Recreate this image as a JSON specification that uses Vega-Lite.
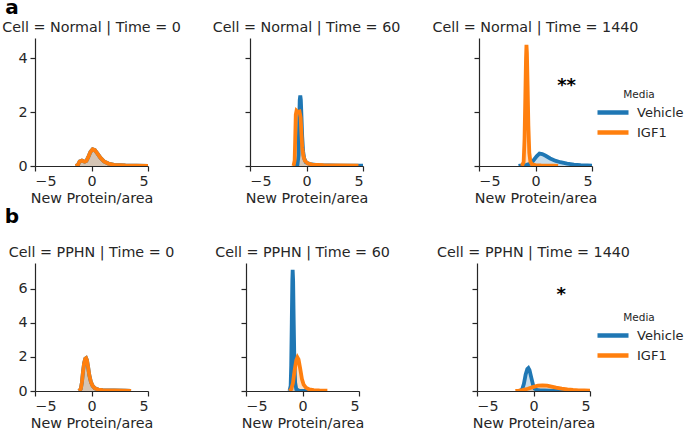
{
  "$schema": "https://vega.github.io/schema/vega-lite/v6.json",
  "padding": {"left": 2, "top": -3, "right": 0, "bottom": 0},
  "config": {
    "font": "DejaVu Sans",
    "view": {"stroke": null},
    "axis": {"grid": false, "domainColor": "#262626", "tickColor": "#262626", "labelColor": "#262626", "titleColor": "#262626", "labelFont": "DejaVu Sans", "titleFont": "DejaVu Sans", "labelFontSize": 14.3, "titleFontSize": 14.3, "titleFontWeight": "normal", "tickSize": 5, "domainWidth": 1.2, "tickWidth": 1.2, "labelPadding": 3, "titlePadding": 3},
    "title": {"fontSize": 14.3, "fontWeight": "normal", "color": "#262626", "offset": 3, "font": "DejaVu Sans"},
    "legend": {"titleFont": "DejaVu Sans", "labelFont": "DejaVu Sans"}
  },
  "datasets": {
    "stars": [
      {"cell": "Normal", "time": 1440, "x": 2.75, "y": 2.96, "label": "**"},
      {"cell": "PPHN", "time": 1440, "x": 2.45, "y": 5.6, "label": "*"}
    ],
    "kde": [
      {"cell":"Normal","time":0,"media":"Vehicle","x":-1.4,"y":0},
      {"cell":"Normal","time":0,"media":"Vehicle","x":-1.2,"y":0.04},
      {"cell":"Normal","time":0,"media":"Vehicle","x":-1.05,"y":0.17},
      {"cell":"Normal","time":0,"media":"Vehicle","x":-0.85,"y":0.2},
      {"cell":"Normal","time":0,"media":"Vehicle","x":-0.6,"y":0.16},
      {"cell":"Normal","time":0,"media":"Vehicle","x":-0.45,"y":0.19},
      {"cell":"Normal","time":0,"media":"Vehicle","x":-0.3,"y":0.32},
      {"cell":"Normal","time":0,"media":"Vehicle","x":-0.1,"y":0.52},
      {"cell":"Normal","time":0,"media":"Vehicle","x":0.1,"y":0.62},
      {"cell":"Normal","time":0,"media":"Vehicle","x":0.3,"y":0.59},
      {"cell":"Normal","time":0,"media":"Vehicle","x":0.5,"y":0.48},
      {"cell":"Normal","time":0,"media":"Vehicle","x":0.8,"y":0.3},
      {"cell":"Normal","time":0,"media":"Vehicle","x":1.1,"y":0.17},
      {"cell":"Normal","time":0,"media":"Vehicle","x":1.5,"y":0.09},
      {"cell":"Normal","time":0,"media":"Vehicle","x":2.0,"y":0.045},
      {"cell":"Normal","time":0,"media":"Vehicle","x":3.0,"y":0.02},
      {"cell":"Normal","time":0,"media":"Vehicle","x":4.0,"y":0.01},
      {"cell":"Normal","time":0,"media":"Vehicle","x":5.0,"y":0.005},
      {"cell":"Normal","time":0,"media":"IGF1","x":-1.4,"y":0},
      {"cell":"Normal","time":0,"media":"IGF1","x":-1.2,"y":0.04},
      {"cell":"Normal","time":0,"media":"IGF1","x":-1.05,"y":0.17},
      {"cell":"Normal","time":0,"media":"IGF1","x":-0.85,"y":0.2},
      {"cell":"Normal","time":0,"media":"IGF1","x":-0.6,"y":0.16},
      {"cell":"Normal","time":0,"media":"IGF1","x":-0.45,"y":0.19},
      {"cell":"Normal","time":0,"media":"IGF1","x":-0.3,"y":0.32},
      {"cell":"Normal","time":0,"media":"IGF1","x":-0.1,"y":0.52},
      {"cell":"Normal","time":0,"media":"IGF1","x":0.1,"y":0.62},
      {"cell":"Normal","time":0,"media":"IGF1","x":0.3,"y":0.59},
      {"cell":"Normal","time":0,"media":"IGF1","x":0.5,"y":0.48},
      {"cell":"Normal","time":0,"media":"IGF1","x":0.8,"y":0.3},
      {"cell":"Normal","time":0,"media":"IGF1","x":1.1,"y":0.17},
      {"cell":"Normal","time":0,"media":"IGF1","x":1.5,"y":0.09},
      {"cell":"Normal","time":0,"media":"IGF1","x":2.0,"y":0.045},
      {"cell":"Normal","time":0,"media":"IGF1","x":3.0,"y":0.02},
      {"cell":"Normal","time":0,"media":"IGF1","x":4.0,"y":0.01},
      {"cell":"Normal","time":0,"media":"IGF1","x":5.0,"y":0.005},

      {"cell":"Normal","time":60,"media":"Vehicle","x":-1.0,"y":0},
      {"cell":"Normal","time":60,"media":"Vehicle","x":-0.8,"y":0.05},
      {"cell":"Normal","time":60,"media":"Vehicle","x":-0.7,"y":0.4},
      {"cell":"Normal","time":60,"media":"Vehicle","x":-0.65,"y":1.6},
      {"cell":"Normal","time":60,"media":"Vehicle","x":-0.6,"y":2.45},
      {"cell":"Normal","time":60,"media":"Vehicle","x":-0.55,"y":2.62},
      {"cell":"Normal","time":60,"media":"Vehicle","x":-0.5,"y":2.45},
      {"cell":"Normal","time":60,"media":"Vehicle","x":-0.45,"y":1.9},
      {"cell":"Normal","time":60,"media":"Vehicle","x":-0.38,"y":1.1},
      {"cell":"Normal","time":60,"media":"Vehicle","x":-0.3,"y":0.55},
      {"cell":"Normal","time":60,"media":"Vehicle","x":-0.2,"y":0.28},
      {"cell":"Normal","time":60,"media":"Vehicle","x":-0.05,"y":0.14},
      {"cell":"Normal","time":60,"media":"Vehicle","x":0.3,"y":0.07},
      {"cell":"Normal","time":60,"media":"Vehicle","x":1.0,"y":0.03},
      {"cell":"Normal","time":60,"media":"Vehicle","x":3.0,"y":0.015},
      {"cell":"Normal","time":60,"media":"Vehicle","x":5.0,"y":0.01},
      {"cell":"Normal","time":60,"media":"IGF1","x":-1.15,"y":0},
      {"cell":"Normal","time":60,"media":"IGF1","x":-1.05,"y":0.2},
      {"cell":"Normal","time":60,"media":"IGF1","x":-1.0,"y":1.0},
      {"cell":"Normal","time":60,"media":"IGF1","x":-0.95,"y":1.9},
      {"cell":"Normal","time":60,"media":"IGF1","x":-0.88,"y":2.05},
      {"cell":"Normal","time":60,"media":"IGF1","x":-0.75,"y":2.0},
      {"cell":"Normal","time":60,"media":"IGF1","x":-0.62,"y":2.02},
      {"cell":"Normal","time":60,"media":"IGF1","x":-0.52,"y":1.8},
      {"cell":"Normal","time":60,"media":"IGF1","x":-0.45,"y":1.2},
      {"cell":"Normal","time":60,"media":"IGF1","x":-0.38,"y":0.7},
      {"cell":"Normal","time":60,"media":"IGF1","x":-0.28,"y":0.38},
      {"cell":"Normal","time":60,"media":"IGF1","x":-0.15,"y":0.2},
      {"cell":"Normal","time":60,"media":"IGF1","x":0.1,"y":0.1},
      {"cell":"Normal","time":60,"media":"IGF1","x":0.5,"y":0.05},
      {"cell":"Normal","time":60,"media":"IGF1","x":1.5,"y":0.03},
      {"cell":"Normal","time":60,"media":"IGF1","x":3.0,"y":0.02},
      {"cell":"Normal","time":60,"media":"IGF1","x":4.6,"y":0.01},

      {"cell":"Normal","time":1440,"media":"Vehicle","x":-1.5,"y":0},
      {"cell":"Normal","time":1440,"media":"Vehicle","x":-1.2,"y":0.02},
      {"cell":"Normal","time":1440,"media":"Vehicle","x":-0.8,"y":0.04},
      {"cell":"Normal","time":1440,"media":"Vehicle","x":-0.5,"y":0.08},
      {"cell":"Normal","time":1440,"media":"Vehicle","x":-0.2,"y":0.2},
      {"cell":"Normal","time":1440,"media":"Vehicle","x":0.1,"y":0.36},
      {"cell":"Normal","time":1440,"media":"Vehicle","x":0.35,"y":0.46},
      {"cell":"Normal","time":1440,"media":"Vehicle","x":0.6,"y":0.44},
      {"cell":"Normal","time":1440,"media":"Vehicle","x":0.9,"y":0.38},
      {"cell":"Normal","time":1440,"media":"Vehicle","x":1.3,"y":0.28},
      {"cell":"Normal","time":1440,"media":"Vehicle","x":1.8,"y":0.19},
      {"cell":"Normal","time":1440,"media":"Vehicle","x":2.2,"y":0.14},
      {"cell":"Normal","time":1440,"media":"Vehicle","x":2.8,"y":0.09},
      {"cell":"Normal","time":1440,"media":"Vehicle","x":3.4,"y":0.05},
      {"cell":"Normal","time":1440,"media":"Vehicle","x":4.0,"y":0.03},
      {"cell":"Normal","time":1440,"media":"Vehicle","x":4.6,"y":0.02},
      {"cell":"Normal","time":1440,"media":"Vehicle","x":5.0,"y":0.015},
      {"cell":"Normal","time":1440,"media":"IGF1","x":-1.2,"y":0},
      {"cell":"Normal","time":1440,"media":"IGF1","x":-1.05,"y":0.15},
      {"cell":"Normal","time":1440,"media":"IGF1","x":-0.97,"y":1.0},
      {"cell":"Normal","time":1440,"media":"IGF1","x":-0.9,"y":2.6},
      {"cell":"Normal","time":1440,"media":"IGF1","x":-0.84,"y":4.0},
      {"cell":"Normal","time":1440,"media":"IGF1","x":-0.8,"y":4.5},
      {"cell":"Normal","time":1440,"media":"IGF1","x":-0.76,"y":4.2},
      {"cell":"Normal","time":1440,"media":"IGF1","x":-0.7,"y":3.0},
      {"cell":"Normal","time":1440,"media":"IGF1","x":-0.63,"y":1.5},
      {"cell":"Normal","time":1440,"media":"IGF1","x":-0.55,"y":0.5},
      {"cell":"Normal","time":1440,"media":"IGF1","x":-0.45,"y":0.15},
      {"cell":"Normal","time":1440,"media":"IGF1","x":-0.3,"y":0.06},
      {"cell":"Normal","time":1440,"media":"IGF1","x":0.0,"y":0.03},
      {"cell":"Normal","time":1440,"media":"IGF1","x":0.5,"y":0.02},
      {"cell":"Normal","time":1440,"media":"IGF1","x":1.5,"y":0.01},
      {"cell":"Normal","time":1440,"media":"IGF1","x":2.0,"y":0},

      {"cell":"PPHN","time":0,"media":"Vehicle","x":-1.1,"y":0},
      {"cell":"PPHN","time":0,"media":"Vehicle","x":-0.95,"y":0.12},
      {"cell":"PPHN","time":0,"media":"Vehicle","x":-0.85,"y":0.5},
      {"cell":"PPHN","time":0,"media":"Vehicle","x":-0.75,"y":1.15},
      {"cell":"PPHN","time":0,"media":"Vehicle","x":-0.65,"y":1.65},
      {"cell":"PPHN","time":0,"media":"Vehicle","x":-0.55,"y":1.9},
      {"cell":"PPHN","time":0,"media":"Vehicle","x":-0.48,"y":1.93},
      {"cell":"PPHN","time":0,"media":"Vehicle","x":-0.4,"y":1.8},
      {"cell":"PPHN","time":0,"media":"Vehicle","x":-0.3,"y":1.4},
      {"cell":"PPHN","time":0,"media":"Vehicle","x":-0.2,"y":0.95},
      {"cell":"PPHN","time":0,"media":"Vehicle","x":-0.05,"y":0.52},
      {"cell":"PPHN","time":0,"media":"Vehicle","x":0.1,"y":0.3},
      {"cell":"PPHN","time":0,"media":"Vehicle","x":0.3,"y":0.16},
      {"cell":"PPHN","time":0,"media":"Vehicle","x":0.6,"y":0.08},
      {"cell":"PPHN","time":0,"media":"Vehicle","x":1.0,"y":0.05},
      {"cell":"PPHN","time":0,"media":"Vehicle","x":2.0,"y":0.03},
      {"cell":"PPHN","time":0,"media":"Vehicle","x":3.0,"y":0.02},
      {"cell":"PPHN","time":0,"media":"Vehicle","x":3.5,"y":0.01},
      {"cell":"PPHN","time":0,"media":"IGF1","x":-1.1,"y":0},
      {"cell":"PPHN","time":0,"media":"IGF1","x":-0.95,"y":0.12},
      {"cell":"PPHN","time":0,"media":"IGF1","x":-0.85,"y":0.5},
      {"cell":"PPHN","time":0,"media":"IGF1","x":-0.75,"y":1.15},
      {"cell":"PPHN","time":0,"media":"IGF1","x":-0.65,"y":1.65},
      {"cell":"PPHN","time":0,"media":"IGF1","x":-0.55,"y":1.9},
      {"cell":"PPHN","time":0,"media":"IGF1","x":-0.48,"y":1.93},
      {"cell":"PPHN","time":0,"media":"IGF1","x":-0.4,"y":1.8},
      {"cell":"PPHN","time":0,"media":"IGF1","x":-0.3,"y":1.4},
      {"cell":"PPHN","time":0,"media":"IGF1","x":-0.2,"y":0.95},
      {"cell":"PPHN","time":0,"media":"IGF1","x":-0.05,"y":0.52},
      {"cell":"PPHN","time":0,"media":"IGF1","x":0.1,"y":0.3},
      {"cell":"PPHN","time":0,"media":"IGF1","x":0.3,"y":0.16},
      {"cell":"PPHN","time":0,"media":"IGF1","x":0.6,"y":0.08},
      {"cell":"PPHN","time":0,"media":"IGF1","x":1.0,"y":0.05},
      {"cell":"PPHN","time":0,"media":"IGF1","x":2.0,"y":0.03},
      {"cell":"PPHN","time":0,"media":"IGF1","x":3.0,"y":0.02},
      {"cell":"PPHN","time":0,"media":"IGF1","x":3.5,"y":0.01},

      {"cell":"PPHN","time":60,"media":"Vehicle","x":-1.15,"y":0},
      {"cell":"PPHN","time":60,"media":"Vehicle","x":-1.05,"y":0.3},
      {"cell":"PPHN","time":60,"media":"Vehicle","x":-1.0,"y":1.5},
      {"cell":"PPHN","time":60,"media":"Vehicle","x":-0.95,"y":4.0},
      {"cell":"PPHN","time":60,"media":"Vehicle","x":-0.9,"y":6.5},
      {"cell":"PPHN","time":60,"media":"Vehicle","x":-0.87,"y":7.1},
      {"cell":"PPHN","time":60,"media":"Vehicle","x":-0.83,"y":6.5},
      {"cell":"PPHN","time":60,"media":"Vehicle","x":-0.78,"y":4.2},
      {"cell":"PPHN","time":60,"media":"Vehicle","x":-0.72,"y":1.8},
      {"cell":"PPHN","time":60,"media":"Vehicle","x":-0.65,"y":0.5},
      {"cell":"PPHN","time":60,"media":"Vehicle","x":-0.55,"y":0.1},
      {"cell":"PPHN","time":60,"media":"Vehicle","x":-0.3,"y":0.02},
      {"cell":"PPHN","time":60,"media":"Vehicle","x":0.5,"y":0},
      {"cell":"PPHN","time":60,"media":"IGF1","x":-1.15,"y":0},
      {"cell":"PPHN","time":60,"media":"IGF1","x":-1.0,"y":0.1},
      {"cell":"PPHN","time":60,"media":"IGF1","x":-0.85,"y":0.45},
      {"cell":"PPHN","time":60,"media":"IGF1","x":-0.7,"y":1.2},
      {"cell":"PPHN","time":60,"media":"IGF1","x":-0.55,"y":1.8},
      {"cell":"PPHN","time":60,"media":"IGF1","x":-0.45,"y":1.97},
      {"cell":"PPHN","time":60,"media":"IGF1","x":-0.35,"y":1.85},
      {"cell":"PPHN","time":60,"media":"IGF1","x":-0.2,"y":1.3},
      {"cell":"PPHN","time":60,"media":"IGF1","x":-0.05,"y":0.7},
      {"cell":"PPHN","time":60,"media":"IGF1","x":0.1,"y":0.38},
      {"cell":"PPHN","time":60,"media":"IGF1","x":0.3,"y":0.2},
      {"cell":"PPHN","time":60,"media":"IGF1","x":0.6,"y":0.09},
      {"cell":"PPHN","time":60,"media":"IGF1","x":1.0,"y":0.05},
      {"cell":"PPHN","time":60,"media":"IGF1","x":1.5,"y":0.03},
      {"cell":"PPHN","time":60,"media":"IGF1","x":2.2,"y":0.02},

      {"cell":"PPHN","time":1440,"media":"Vehicle","x":-1.2,"y":0},
      {"cell":"PPHN","time":1440,"media":"Vehicle","x":-1.0,"y":0.1},
      {"cell":"PPHN","time":1440,"media":"Vehicle","x":-0.85,"y":0.42},
      {"cell":"PPHN","time":1440,"media":"Vehicle","x":-0.7,"y":0.95},
      {"cell":"PPHN","time":1440,"media":"Vehicle","x":-0.55,"y":1.28},
      {"cell":"PPHN","time":1440,"media":"Vehicle","x":-0.45,"y":1.34},
      {"cell":"PPHN","time":1440,"media":"Vehicle","x":-0.35,"y":1.22},
      {"cell":"PPHN","time":1440,"media":"Vehicle","x":-0.2,"y":0.8},
      {"cell":"PPHN","time":1440,"media":"Vehicle","x":-0.05,"y":0.38},
      {"cell":"PPHN","time":1440,"media":"Vehicle","x":0.1,"y":0.14},
      {"cell":"PPHN","time":1440,"media":"Vehicle","x":0.3,"y":0.06},
      {"cell":"PPHN","time":1440,"media":"Vehicle","x":0.6,"y":0.04},
      {"cell":"PPHN","time":1440,"media":"Vehicle","x":1.0,"y":0.03},
      {"cell":"PPHN","time":1440,"media":"Vehicle","x":1.5,"y":0.02},
      {"cell":"PPHN","time":1440,"media":"Vehicle","x":2.5,"y":0.01},
      {"cell":"PPHN","time":1440,"media":"Vehicle","x":3.5,"y":0},
      {"cell":"PPHN","time":1440,"media":"IGF1","x":-1.6,"y":0},
      {"cell":"PPHN","time":1440,"media":"IGF1","x":-1.3,"y":0.02},
      {"cell":"PPHN","time":1440,"media":"IGF1","x":-1.0,"y":0.05},
      {"cell":"PPHN","time":1440,"media":"IGF1","x":-0.5,"y":0.13},
      {"cell":"PPHN","time":1440,"media":"IGF1","x":0.0,"y":0.24},
      {"cell":"PPHN","time":1440,"media":"IGF1","x":0.4,"y":0.31},
      {"cell":"PPHN","time":1440,"media":"IGF1","x":0.8,"y":0.33},
      {"cell":"PPHN","time":1440,"media":"IGF1","x":1.2,"y":0.31},
      {"cell":"PPHN","time":1440,"media":"IGF1","x":1.6,"y":0.26},
      {"cell":"PPHN","time":1440,"media":"IGF1","x":2.0,"y":0.2},
      {"cell":"PPHN","time":1440,"media":"IGF1","x":2.5,"y":0.14},
      {"cell":"PPHN","time":1440,"media":"IGF1","x":3.0,"y":0.09},
      {"cell":"PPHN","time":1440,"media":"IGF1","x":3.5,"y":0.06},
      {"cell":"PPHN","time":1440,"media":"IGF1","x":4.0,"y":0.04},
      {"cell":"PPHN","time":1440,"media":"IGF1","x":4.5,"y":0.03},
      {"cell":"PPHN","time":1440,"media":"IGF1","x":5.0,"y":0.02}
    ]
  },
  "columns": 1,
  "spacing": 0,
  "resolve": {"scale": {"color": "independent"}, "legend": {"color": "independent"}},
  "concat": [
    {
      "title": {"text": "a", "anchor": "start", "fontSize": 20, "fontWeight": "bold", "color": "black", "offset": 1, "dx": 3, "dy": -2},
      "spacing": 31,
      "resolve": {"scale": {"color": "independent"}, "legend": {"color": "independent"}},
      "hconcat": [
        {
          "title": "Cell = Normal | Time = 0",
          "width": 113, "height": 128,
          "layer": [
            {"data": {"name": "kde"}, "transform": [{"filter": "datum.cell == 'Normal' && datum.time == 0"}],
             "mark": {"type": "area", "fillOpacity": 0.25, "clip": true},
             "encoding": {
               "x": {"field": "x", "type": "quantitative", "scale": {"domain": [-5, 5], "nice": false}, "axis": {"values": [-5, 0, 5], "title": "New Protein/area"}},
               "y": {"field": "y", "type": "quantitative", "stack": null, "scale": {"domain": [0, 4.75], "nice": false}, "axis": {"values": [0, 2, 4], "title": null}},
               "color": {"field": "media", "type": "nominal", "scale": {"domain": ["Vehicle", "IGF1"], "range": ["#1f77b4", "#ff7f0e"]}, "legend": null}
             }},
            {"data": {"name": "kde"}, "transform": [{"filter": "datum.cell == 'Normal' && datum.time == 0"}],
             "mark": {"type": "line", "strokeWidth": 3.8, "clip": true},
             "encoding": {
               "x": {"field": "x", "type": "quantitative"},
               "y": {"field": "y", "type": "quantitative"},
               "color": {"field": "media", "type": "nominal", "scale": {"domain": ["Vehicle", "IGF1"], "range": ["#1f77b4", "#ff7f0e"]}, "legend": null}
             }}
          ]
        },
        {
          "title": "Cell = Normal | Time = 60",
          "width": 113, "height": 128,
          "layer": [
            {"data": {"name": "kde"}, "transform": [{"filter": "datum.cell == 'Normal' && datum.time == 60"}],
             "mark": {"type": "area", "fillOpacity": 0.25, "clip": true},
             "encoding": {
               "x": {"field": "x", "type": "quantitative", "scale": {"domain": [-5, 5], "nice": false}, "axis": {"values": [-5, 0, 5], "title": "New Protein/area"}},
               "y": {"field": "y", "type": "quantitative", "stack": null, "scale": {"domain": [0, 4.75], "nice": false}, "axis": {"values": [0, 2, 4], "title": null, "labels": false}},
               "color": {"field": "media", "type": "nominal", "scale": {"domain": ["Vehicle", "IGF1"], "range": ["#1f77b4", "#ff7f0e"]}, "legend": null}
             }},
            {"data": {"name": "kde"}, "transform": [{"filter": "datum.cell == 'Normal' && datum.time == 60"}],
             "mark": {"type": "line", "strokeWidth": 3.8, "clip": true},
             "encoding": {
               "x": {"field": "x", "type": "quantitative"},
               "y": {"field": "y", "type": "quantitative"},
               "color": {"field": "media", "type": "nominal", "scale": {"domain": ["Vehicle", "IGF1"], "range": ["#1f77b4", "#ff7f0e"]}, "legend": null}
             }}
          ]
        },
        {
          "title": "Cell = Normal | Time = 1440",
          "width": 113, "height": 128,
          "layer": [
            {"data": {"name": "kde"}, "transform": [{"filter": "datum.cell == 'Normal' && datum.time == 1440"}],
             "mark": {"type": "area", "fillOpacity": 0.25, "clip": true},
             "encoding": {
               "x": {"field": "x", "type": "quantitative", "scale": {"domain": [-5, 5], "nice": false}, "axis": {"values": [-5, 0, 5], "title": "New Protein/area"}},
               "y": {"field": "y", "type": "quantitative", "stack": null, "scale": {"domain": [0, 4.75], "nice": false}, "axis": {"values": [0, 2, 4], "title": null, "labels": false}},
               "color": {"field": "media", "type": "nominal", "scale": {"domain": ["Vehicle", "IGF1"], "range": ["#1f77b4", "#ff7f0e"]}}
             }},
            {"data": {"name": "kde"}, "transform": [{"filter": "datum.cell == 'Normal' && datum.time == 1440"}],
             "mark": {"type": "line", "strokeWidth": 3.8, "clip": true},
             "encoding": {
               "x": {"field": "x", "type": "quantitative"},
               "y": {"field": "y", "type": "quantitative"},
               "color": {"field": "media", "type": "nominal", "scale": {"domain": ["Vehicle", "IGF1"], "range": ["#1f77b4", "#ff7f0e"]},
                 "legend": {"title": "Media", "orient": "none", "legendX": 116, "legendY": 52, "symbolType": "stroke", "symbolSize": 961, "symbolStrokeWidth": 4.5, "clipHeight": 18, "rowPadding": 2, "labelFontSize": 13, "titleFontSize": 10.5, "titleFontWeight": "normal", "titleAnchor": "middle", "titlePadding": 3, "labelOffset": 6, "padding": 0, "labelColor": "#262626", "titleColor": "#262626"}}
             }},
            {"data": {"name": "stars"}, "transform": [{"filter": "datum.cell == 'Normal' && datum.time == 1440"}],
             "mark": {"type": "text", "fontSize": 18, "fontWeight": "bold", "color": "black", "baseline": "middle"},
             "encoding": {
               "x": {"field": "x", "type": "quantitative"},
               "y": {"field": "y", "type": "quantitative"},
               "text": {"field": "label"}
             }}
          ]
        }
      ]
    },
    {
      "title": {"text": "b", "anchor": "start", "fontSize": 20, "fontWeight": "bold", "color": "black", "offset": 19, "dx": -4},
      "spacing": 47,
      "resolve": {"scale": {"color": "independent"}, "legend": {"color": "independent"}},
      "hconcat": [
        {
          "spacing": 40,
          "resolve": {"scale": {"color": "independent"}, "legend": {"color": "independent"}},
          "hconcat": [
            {
              "title": "Cell = PPHN | Time = 0",
              "width": 113, "height": 128,
              "layer": [
                {"data": {"name": "kde"}, "transform": [{"filter": "datum.cell == 'PPHN' && datum.time == 0"}],
                 "mark": {"type": "area", "fillOpacity": 0.25, "clip": true},
                 "encoding": {
                   "x": {"field": "x", "type": "quantitative", "scale": {"domain": [-5, 5], "nice": false}, "axis": {"values": [-5, 0, 5], "title": "New Protein/area"}},
                   "y": {"field": "y", "type": "quantitative", "stack": null, "scale": {"domain": [0, 7.5], "nice": false}, "axis": {"values": [0, 2, 4, 6], "title": null}},
                   "color": {"field": "media", "type": "nominal", "scale": {"domain": ["Vehicle", "IGF1"], "range": ["#1f77b4", "#ff7f0e"]}, "legend": null}
                 }},
                {"data": {"name": "kde"}, "transform": [{"filter": "datum.cell == 'PPHN' && datum.time == 0"}],
                 "mark": {"type": "line", "strokeWidth": 3.8, "clip": true},
                 "encoding": {
                   "x": {"field": "x", "type": "quantitative"},
                   "y": {"field": "y", "type": "quantitative"},
                   "color": {"field": "media", "type": "nominal", "scale": {"domain": ["Vehicle", "IGF1"], "range": ["#1f77b4", "#ff7f0e"]}, "legend": null}
                 }}
              ]
            },
            {
              "title": "Cell = PPHN | Time = 60",
              "width": 113, "height": 128,
              "layer": [
                {"data": {"name": "kde"}, "transform": [{"filter": "datum.cell == 'PPHN' && datum.time == 60"}],
                 "mark": {"type": "area", "fillOpacity": 0.25, "clip": true},
                 "encoding": {
                   "x": {"field": "x", "type": "quantitative", "scale": {"domain": [-5, 5], "nice": false}, "axis": {"values": [-5, 0, 5], "title": "New Protein/area"}},
                   "y": {"field": "y", "type": "quantitative", "stack": null, "scale": {"domain": [0, 7.5], "nice": false}, "axis": {"values": [0, 2, 4, 6], "title": null, "labels": false}},
                   "color": {"field": "media", "type": "nominal", "scale": {"domain": ["Vehicle", "IGF1"], "range": ["#1f77b4", "#ff7f0e"]}, "legend": null}
                 }},
                {"data": {"name": "kde"}, "transform": [{"filter": "datum.cell == 'PPHN' && datum.time == 60"}],
                 "mark": {"type": "line", "strokeWidth": 3.8, "clip": true},
                 "encoding": {
                   "x": {"field": "x", "type": "quantitative"},
                   "y": {"field": "y", "type": "quantitative"},
                   "color": {"field": "media", "type": "nominal", "scale": {"domain": ["Vehicle", "IGF1"], "range": ["#1f77b4", "#ff7f0e"]}, "legend": null}
                 }}
              ]
            }
          ]
        },
        {
          "title": "Cell = PPHN | Time = 1440",
          "width": 113, "height": 128,
          "layer": [
            {"data": {"name": "kde"}, "transform": [{"filter": "datum.cell == 'PPHN' && datum.time == 1440"}],
             "mark": {"type": "area", "fillOpacity": 0.25, "clip": true},
             "encoding": {
               "x": {"field": "x", "type": "quantitative", "scale": {"domain": [-5, 5], "nice": false}, "axis": {"values": [-5, 0, 5], "title": "New Protein/area"}},
               "y": {"field": "y", "type": "quantitative", "stack": null, "scale": {"domain": [0, 7.5], "nice": false}, "axis": {"values": [0, 2, 4, 6], "title": null, "labels": false}},
               "color": {"field": "media", "type": "nominal", "scale": {"domain": ["Vehicle", "IGF1"], "range": ["#1f77b4", "#ff7f0e"]}}
             }},
            {"data": {"name": "kde"}, "transform": [{"filter": "datum.cell == 'PPHN' && datum.time == 1440"}],
             "mark": {"type": "line", "strokeWidth": 3.8, "clip": true},
             "encoding": {
               "x": {"field": "x", "type": "quantitative"},
               "y": {"field": "y", "type": "quantitative"},
               "color": {"field": "media", "type": "nominal", "scale": {"domain": ["Vehicle", "IGF1"], "range": ["#1f77b4", "#ff7f0e"]},
                 "legend": {"title": "Media", "orient": "none", "legendX": 118, "legendY": 50, "symbolType": "stroke", "symbolSize": 961, "symbolStrokeWidth": 4.5, "clipHeight": 18, "rowPadding": 2, "labelFontSize": 13, "titleFontSize": 10.5, "titleFontWeight": "normal", "titleAnchor": "middle", "titlePadding": 3, "labelOffset": 6, "padding": 0, "labelColor": "#262626", "titleColor": "#262626"}}
             }},
            {"data": {"name": "stars"}, "transform": [{"filter": "datum.cell == 'PPHN' && datum.time == 1440"}],
             "mark": {"type": "text", "fontSize": 18, "fontWeight": "bold", "color": "black", "baseline": "middle"},
             "encoding": {
               "x": {"field": "x", "type": "quantitative"},
               "y": {"field": "y", "type": "quantitative"},
               "text": {"field": "label"}
             }}
          ]
        }
      ]
    }
  ]
}
